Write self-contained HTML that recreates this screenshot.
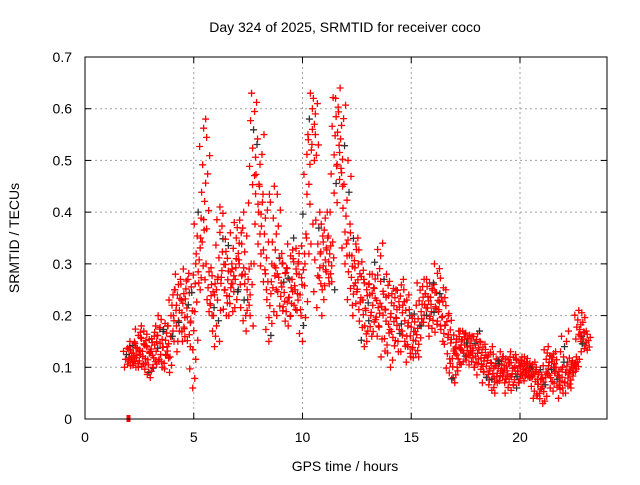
<!DOCTYPE html>
<html><head><meta charset="utf-8"><style>
body{margin:0;background:#fff}
svg{font-family:"Liberation Sans",sans-serif;font-size:14px}
</style></head><body>
<svg id="chart" width="640" height="480">
<text x="345" y="32" text-anchor="middle">Day 324 of 2025, SRMTID for receiver coco</text>
<text transform="translate(19,238) rotate(-90)" text-anchor="middle">SRMTID / TECUs</text>
<text x="345" y="471" text-anchor="middle">GPS time / hours</text>
<g id="grid"></g>
<g id="ticks"></g>
<g id="marks"></g>
<rect x="85" y="57" width="522" height="362" fill="none" stroke="#000"/>
</svg>
<script>
const xTicks=[0,5,10,15,20];
const yTicks=[0,0.1,0.2,0.3,0.4,0.5,0.6,0.7];
const yTickLabels=["0","0.1","0.2","0.3","0.4","0.5","0.6","0.7"];
const hours=[2,2.25,2.5,2.75,3,3.25,3.5,3.75,4,4.25,4.5,4.75,5,5.25,5.5,5.75,6,6.25,6.5,6.75,7,7.25,7.5,7.75,8,8.25,8.5,8.75,9,9.25,9.5,9.75,10,10.25,10.5,10.75,11,11.25,11.5,11.75,12,12.25,12.5,12.75,13,13.25,13.5,13.75,14,14.25,14.5,14.75,15,15.25,15.5,15.75,16,16.25,16.5,16.75,17,17.25,17.5,17.75,18,18.25,18.5,18.75,19,19.25,19.5,19.75,20,20.25,20.5,20.75,21,21.25,21.5,21.75,22,22.25,22.5,22.75,23];
const lowValues=[0.10,0.10,0.10,0.09,0.08,0.10,0.10,0.09,0.12,0.15,0.15,0.14,0.06,0.25,0.35,0.20,0.14,0.25,0.20,0.20,0.25,0.20,0.17,0.40,0.30,0.25,0.15,0.25,0.20,0.18,0.20,0.20,0.15,0.30,0.50,0.20,0.25,0.25,0.40,0.45,0.30,0.22,0.20,0.14,0.15,0.16,0.18,0.12,0.10,0.15,0.13,0.12,0.11,0.12,0.18,0.18,0.16,0.18,0.15,0.08,0.07,0.10,0.12,0.10,0.10,0.08,0.07,0.05,0.07,0.07,0.05,0.06,0.07,0.08,0.08,0.04,0.03,0.06,0.08,0.05,0.04,0.06,0.09,0.15,0.13];
const highValues=[0.14,0.15,0.18,0.17,0.16,0.18,0.20,0.18,0.25,0.28,0.27,0.29,0.30,0.40,0.58,0.30,0.27,0.41,0.36,0.30,0.38,0.40,0.30,0.63,0.55,0.45,0.30,0.45,0.32,0.30,0.35,0.33,0.35,0.55,0.63,0.40,0.40,0.35,0.64,0.62,0.50,0.36,0.35,0.30,0.28,0.28,0.34,0.27,0.28,0.25,0.27,0.25,0.22,0.20,0.27,0.27,0.26,0.30,0.25,0.20,0.17,0.17,0.17,0.16,0.17,0.15,0.14,0.12,0.13,0.12,0.12,0.13,0.12,0.12,0.11,0.10,0.09,0.14,0.13,0.10,0.17,0.11,0.12,0.21,0.17];
const ns="http://www.w3.org/2000/svg";
const X=h=>85+h*(522/24), Y=v=>419-v*(362/0.7);
function mk(t,a,p){const e=document.createElementNS(ns,t);for(const k in a)e.setAttribute(k,a[k]);p.appendChild(e);return e;}
const grid=document.getElementById('grid'),ticks=document.getElementById('ticks'),marks=document.getElementById('marks');
xTicks.forEach(t=>{const x=X(t);
 if(t>0){const g=mk('line',{x1:x,x2:x,y1:57,y2:419,stroke:'#a0a0a0','stroke-dasharray':'2,3'},grid);}
 mk('line',{x1:x,x2:x,y1:419,y2:413,stroke:'#000'},ticks);mk('line',{x1:x,x2:x,y1:57,y2:63,stroke:'#000'},ticks);
 const l=mk('text',{x:x,y:442,'text-anchor':'middle'},ticks);l.textContent=t;
 });
yTicks.forEach((t,i)=>{const y=Y(t);
 if(t>0&&t<0.7){const g=mk('line',{x1:85,x2:607,y1:y,y2:y,stroke:'#a0a0a0','stroke-dasharray':'2,3'},grid);}
 mk('line',{x1:85,x2:91,y1:y,y2:y,stroke:'#000'},ticks);mk('line',{x1:607,x2:601,y1:y,y2:y,stroke:'#000'},ticks);
 const l=mk('text',{x:72,y:y+5,'text-anchor':'end'},ticks);l.textContent=yTickLabels[i];
 });
const sq=mk('rect',{x:X(2)-2,y:Y(0)-4,width:4,height:7,fill:'#f00'},marks);

const offs=[-4,2,-1,4,0,-3,1,3,-2,5,-5,2,-1,1];
let n=0;
hours.forEach((h,i)=>{const lo=lowValues[i],hi=highValues[i];
 for(let k=0;k<14;k++){const v=lo+(hi-lo)*k/13;const x=X(h)+offs[(k+i)%14];const y=Y(v);
  const col=(n++%17===8)?'#333':'#f00';
  const p=mk('path',{d:`M${x-3.5} ${y}h7M${x} ${y-3.5}v7`,stroke:col,'stroke-width':1.3,fill:'none'},marks);
  }
});
</script>
</body></html>
